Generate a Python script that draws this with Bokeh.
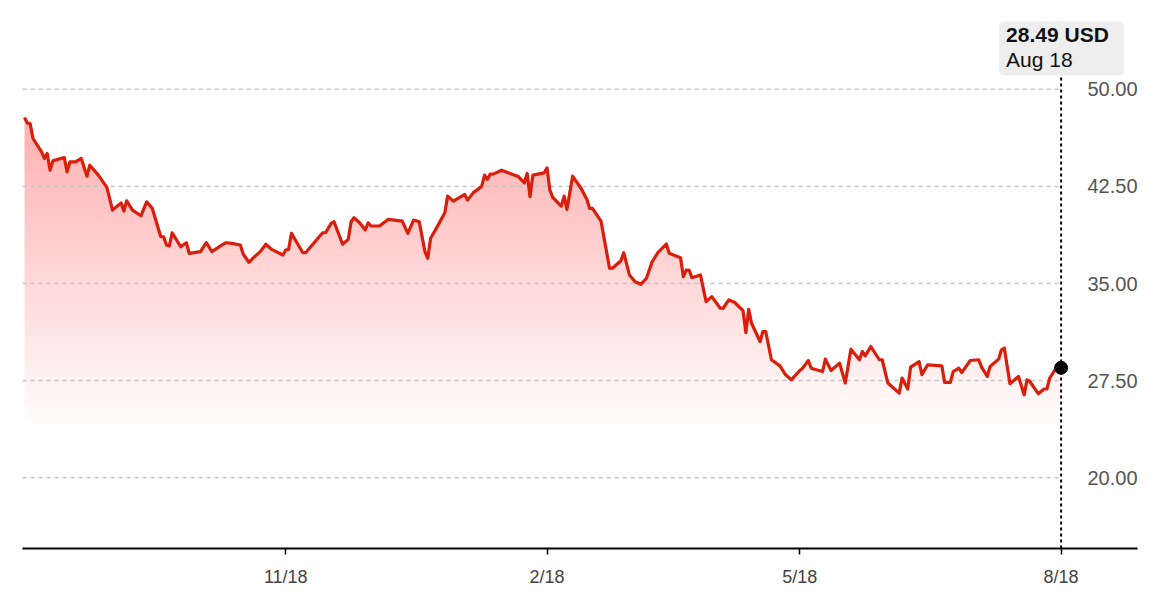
import numpy as np
import pandas as pd
from bokeh.plotting import figure
from bokeh.models import Range1d, FixedTicker, BoxAnnotation, Label
from bokeh.core.properties import value
from bokeh.embed import file_html
from bokeh.resources import INLINE

# ---------------- data ----------------
start_date = "2017-08-18"
day_offsets = [
    0, 1, 2, 3, 6, 7, 8, 9, 10, 14, 15, 16, 18, 20, 22, 23, 26, 29, 31, 34,
    35, 36, 38, 41, 43, 45, 48, 49, 50, 51, 52, 55, 57, 58, 62, 64, 66, 69, 71, 73,
    76, 77, 79, 81, 83, 85, 87, 91, 92, 93, 94, 98, 99, 101, 105, 106, 108, 109, 112, 114,
    115, 116, 118, 120, 121, 122, 125, 128, 133, 135, 137, 139, 141, 142, 143, 145, 148, 149, 151, 155,
    156, 158, 161, 162, 163, 164, 165, 168, 171, 174, 176, 177, 178, 179, 183, 184, 185, 186, 189, 190,
    191, 193, 196, 198, 199, 200, 203, 206, 207, 210, 211, 213, 215, 217, 219, 221, 223, 226, 227, 231,
    232, 233, 234, 235, 238, 240, 242, 245, 246, 248, 250, 253, 254, 255, 256, 259, 260, 261, 263, 266,
    268, 270, 273, 274, 276, 277, 281, 282, 284, 287, 289, 291, 294, 295, 296, 298, 301, 302, 304, 308,
    309, 311, 312, 315, 316, 318, 323, 324, 326, 327, 329, 330, 333, 336, 337, 339, 340, 343, 344, 345,
    347, 350, 352, 353, 354, 357, 359, 360, 361, 363, 365,
]
prices = [
    47.82, 47.40, 47.35, 46.20, 45.17, 44.66, 45.04, 43.75, 44.47, 44.73, 43.62, 44.39, 44.39, 44.66, 43.29, 44.14, 43.37, 42.42, 40.67, 41.23,
    40.59, 41.39, 40.67, 40.23, 41.31, 40.80, 38.61, 38.61, 37.97, 37.90, 38.92, 37.84, 38.15, 37.33, 37.46, 38.15, 37.46, 37.90, 38.15, 38.10,
    37.97, 37.28, 36.64, 37.07, 37.46, 38.03, 37.64, 37.20, 37.59, 37.64, 38.87, 37.38, 37.38, 37.90, 38.92, 38.92, 39.64, 39.77, 38.03, 38.41,
    39.77, 40.08, 39.69, 39.13, 39.69, 39.44, 39.44, 39.95, 39.82, 38.87, 39.90, 39.77, 37.46, 36.95, 38.49, 39.26, 40.46, 41.75, 41.36, 41.88,
    41.44, 42.00, 42.52, 43.37, 43.04, 43.45, 43.45, 43.75, 43.50, 43.24, 42.78, 43.50, 41.70, 43.37, 43.55, 43.93, 42.21, 41.65, 40.98, 41.75,
    40.72, 43.29, 42.34, 41.50, 40.80, 40.80, 39.82, 36.18, 36.18, 36.76, 37.38, 35.66, 35.14, 34.94, 35.40, 36.68, 37.38, 38.05, 37.33, 36.99,
    35.53, 36.04, 36.04, 35.45, 35.66, 33.60, 33.99, 33.09, 33.09, 33.73, 33.55, 32.91, 31.21, 33.01, 31.93, 30.52, 31.29, 31.29, 29.11, 28.64,
    27.95, 27.56, 28.28, 28.46, 29.05, 28.46, 28.20, 29.16, 28.28, 28.85, 27.31, 29.93, 29.11, 29.75, 29.41, 30.13, 29.11, 29.11, 27.31, 26.53,
    27.70, 26.85, 28.54, 28.97, 27.95, 28.72, 28.64, 27.36, 27.36, 28.20, 28.46, 28.12, 29.05, 29.11, 28.54, 27.82, 28.59, 29.16, 29.88, 30.01,
    27.26, 27.82, 26.41, 27.56, 27.43, 26.48, 26.85, 26.85, 27.70, 28.39, 28.49,
]
tick_dates = ["2017-11-18", "2018-02-18", "2018-05-18", "2018-08-18"]
tick_labels = ["11/18", "2/18", "5/18", "8/18"]
y_ticks = [20.0, 27.5, 35.0, 42.5, 50.0]
tooltip_price = "28.49 USD"
tooltip_date = "Aug 18"

# ---------------- geometry ----------------
FIG_W, FIG_H = 1164, 589
BORDER_L, BORDER_R, BORDER_T, BORDER_B = 22, 27, 18, 40
FRAME_W = FIG_W - BORDER_L - BORDER_R
FRAME_H = FIG_H - BORDER_T - BORDER_B
Y_MIN, Y_MAX = 14.53, 55.47
X_PAD_LEFT_DAYS, X_PAD_RIGHT_DAYS = 0.7, 26.9

DAY_MS = 86400000.0
dates = pd.Timestamp(start_date) + pd.to_timedelta(day_offsets, unit="D")
vals = np.array(prices, dtype=float)
x_ms = np.array([d.value / 1e6 for d in dates])
first_ms, last_ms = x_ms[0], x_ms[-1]
x_lo = first_ms - X_PAD_LEFT_DAYS * DAY_MS
x_hi = last_ms + X_PAD_RIGHT_DAYS * DAY_MS
ms_per_px = (x_hi - x_lo) / FRAME_W
units_per_px = (Y_MAX - Y_MIN) / FRAME_H

p = figure(width=FIG_W, height=FIG_H, x_axis_type="datetime", y_axis_location=None,
           output_backend="svg", toolbar_location=None,
           x_range=Range1d(x_lo, x_hi), y_range=Range1d(Y_MIN, Y_MAX),
           min_border_left=BORDER_L, min_border_right=BORDER_R,
           min_border_top=BORDER_T, min_border_bottom=BORDER_B)
p.outline_line_color = None
p.xgrid.visible = False
p.ygrid.visible = False
p.background_fill_color = "white"
p.border_fill_color = "white"

# gradient fill under the line (stacked translucent layers)
n_layers = 40
grad_lo, grad_hi = 23.7, 48.0
alpha_each = 1 - (1 - 0.30) ** (1.0 / n_layers)
for a in np.linspace(grad_lo, grad_hi, n_layers, endpoint=False):
    p.varea(x=x_ms, y1=np.minimum(vals, a), y2=vals, fill_color="#dc2a18",
            fill_alpha=alpha_each)

# dashed gridlines
n = len(y_ticks)
p.segment(x0=[x_lo] * n, x1=[last_ms] * n, y0=y_ticks, y1=y_ticks,
          line_color="#c6c6c6", line_width=1.5, line_dash="4 4")

# y labels on the right
p.text(x=[x_hi] * n, y=y_ticks, text=[f"{v:.2f}" for v in y_ticks],
       text_align="right", text_baseline="middle",
       text_font=value("Liberation Sans"), text_font_size="20px", text_color="#555555")

# tooltip box geometry
box_left = last_ms - 62 * ms_per_px
box_right = last_ms + 63 * ms_per_px
box_top = Y_MAX - 3 * units_per_px
box_bottom = Y_MAX - 57 * units_per_px

# vertical dotted line
p.segment(x0=[last_ms], x1=[last_ms], y0=[Y_MIN], y1=[box_bottom],
          line_color="black", line_width=2, line_dash="3 3")

# price line
p.line(x_ms, vals, line_color="#d91e0b", line_width=3.2, line_join="round")
p.scatter([last_ms], [vals[-1]], size=13, fill_color="black", line_color="black")

box = BoxAnnotation(left=box_left, right=box_right, top=box_top, bottom=box_bottom,
                    fill_color="#eeeeee", fill_alpha=1.0, line_color=None, border_radius=5)
p.add_layout(box)
p.add_layout(Label(x=last_ms, y=Y_MAX - 16 * units_per_px, x_offset=-55, text=tooltip_price,
                   text_font="Liberation Sans", text_font_size="21px", text_font_style="bold",
                   text_color="#111111", text_baseline="alphabetic"))
p.add_layout(Label(x=last_ms, y=Y_MAX - 41 * units_per_px, x_offset=-55, text=tooltip_date,
                   text_font="Liberation Sans", text_font_size="21px",
                   text_color="#111111", text_baseline="alphabetic"))

# x axis
tick_ms = [pd.Timestamp(d).value / 1e6 for d in tick_dates]
ax = p.xaxis[0]
ax.ticker = FixedTicker(ticks=tick_ms)
ax.major_label_overrides = {t: lab for t, lab in zip(tick_ms, tick_labels)}
ax.axis_line_color = "black"
ax.axis_line_width = 2
ax.major_tick_line_color = "black"
ax.major_tick_line_width = 1.5
ax.major_tick_in = 0
ax.major_tick_out = 6
ax.minor_tick_line_color = None
ax.major_label_standoff = 12
ax.major_label_text_font = "Liberation Sans"
ax.major_label_text_font_size = "18px"
ax.major_label_text_color = "#444444"

open("out.html", "w").write(file_html(p, INLINE))
